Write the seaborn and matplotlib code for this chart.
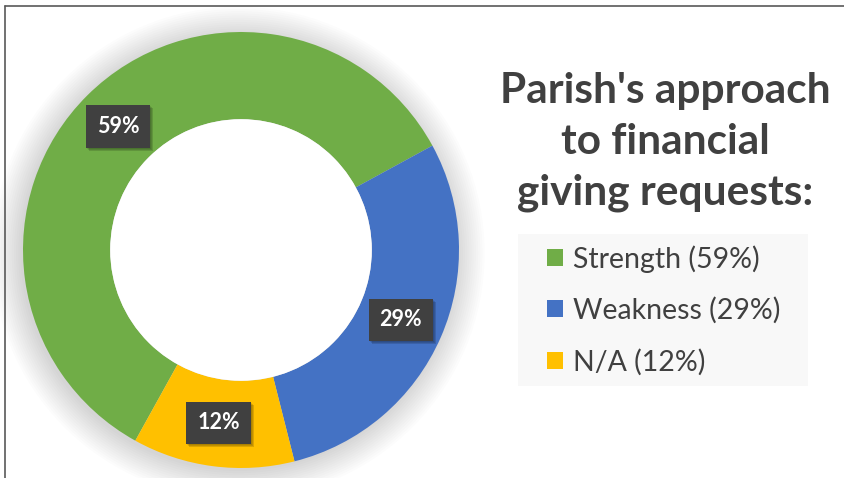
import matplotlib
matplotlib.use("Agg")
import matplotlib.pyplot as plt
import matplotlib.transforms as mtransforms
import seaborn as sns
from matplotlib.lines import Line2D
from matplotlib.patches import Circle, Patch, Rectangle

categories = ["Strength", "Weakness", "N/A"]
values = [59, 29, 12]
colors = ["#70AD47", "#4472C4", "#FFC000"]
title = "Parish's approach\nto financial\ngiving requests:"

sns.set_theme(style="white")
plt.rcParams["font.family"] = ["Lato", "DejaVu Sans"]

W, H = 844, 478
fig = plt.figure(figsize=(W / 100, H / 100), dpi=100)
fig.patch.set_facecolor("white")

cx, cy, R = 241, 250, 218
ax = fig.add_axes([(cx - R) / W, (H - cy - R) / H, 2 * R / W, 2 * R / H])

# soft shadow around the ring
for i in range(14):
    ax.add_patch(Circle((-0.012, -0.014), 1.0 + i * 0.01, clip_on=False,
                        facecolor="black", alpha=0.010, lw=0, zorder=0))

wedges, texts, autotexts = ax.pie(
    values, colors=colors, startangle=-119, counterclock=False, radius=1.0,
    wedgeprops=dict(width=0.4, linewidth=0),
    autopct=lambda p: f"{round(p)}%", pctdistance=0.8,
)
ax.set_xlim(-1, 1)
ax.set_ylim(-1, 1)
ax.set_aspect("equal")
ax.axis("off")
ax.add_patch(Circle((0, 0), 0.6, facecolor="white", lw=0, zorder=3))

for t in autotexts:
    t.set_color("white")
    t.set_fontweight("bold")
    t.set_fontsize(15.5)
    t.set_zorder(6)
    t.set_bbox(dict(boxstyle="square,pad=0.5", facecolor="#404040", edgecolor="none"))

fig.text(665 / W, 1 - 142 / H, title, ha="center", va="center", fontsize=30.5,
         fontweight="bold", color="#404040", linespacing=1.4)

# legend background panel
fig.add_artist(Rectangle((518 / W, 1 - 386 / H), 290 / W, 152 / H,
                         transform=fig.transFigure, facecolor="#F8F8F8",
                         edgecolor="none", zorder=0))
handles = [Patch(facecolor=c, edgecolor="none") for c in colors]
labels = [f"{c} ({v}%)" for c, v in zip(categories, values)]
leg = fig.legend(handles, labels, loc="upper left",
                 bbox_to_anchor=(547 / W, 1 - 245 / H), frameon=False,
                 fontsize=20.5, handlelength=0.55, handleheight=0.55,
                 handletextpad=0.35, labelspacing=0.86, borderpad=0,
                 borderaxespad=0)
for t in leg.get_texts():
    t.set_color("#404040")

fig.add_artist(Line2D([5 / W, 1], [1 - 6 / H, 1 - 6 / H], color="#595959", lw=1.2))
fig.add_artist(Line2D([5 / W, 5 / W], [0, 1 - 6 / H], color="#595959", lw=1.2))

# drop shadows under the value boxes
fig.canvas.draw()
ident = mtransforms.IdentityTransform()
for t in autotexts:
    bb = t.get_bbox_patch().get_window_extent()
    for k, a in enumerate([0.10, 0.12, 0.14]):
        ax.add_patch(Rectangle((bb.x0 + 1 + k, bb.y0 - 1 - k), bb.width, bb.height,
                               transform=ident, facecolor="black", alpha=a,
                               edgecolor="none", zorder=5, clip_on=False))

fig.savefig("out.png", dpi=100)
